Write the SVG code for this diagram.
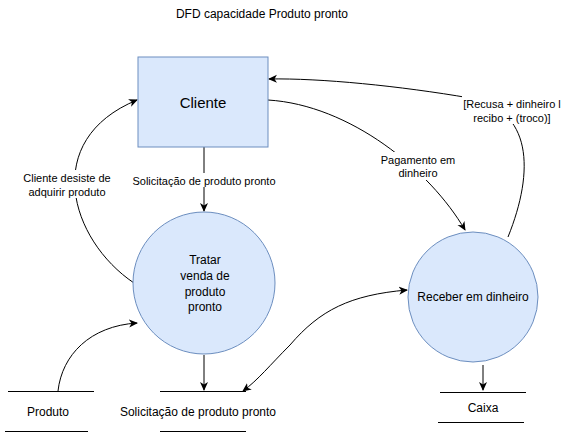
<svg xmlns="http://www.w3.org/2000/svg" width="562" height="436" viewBox="0 0 562 436">
<defs>
<marker id="arr" markerWidth="10" markerHeight="10" refX="8" refY="5" orient="auto" markerUnits="userSpaceOnUse">
<path d="M0,1 L9,5 L0,9 L2.5,5 Z" fill="#000"/>
</marker>
<style>
.node{fill:#dae8fc;stroke:#6c8ebf;stroke-width:1}
.t{font-family:"Liberation Sans",Arial,sans-serif;fill:#000;text-anchor:middle}
.lbl{font-size:11px}
.n{font-size:12px}
.e{fill:none;stroke:#000;stroke-width:1}
.s{stroke:#000;stroke-width:1}
.bg{fill:#fff}
</style>
</defs>
<rect width="562" height="436" fill="#fff"/>
<text class="t n" x="262" y="18">DFD capacidade Produto pronto</text>
<g id="connectors">
<path class="e" d="M204 147 L204 211" marker-end="url(#arr)"/>
<path class="e" d="M204 355 L204 390" marker-end="url(#arr)"/>
<path class="e" d="M483 365 L483 390" marker-end="url(#arr)"/>
<path class="e" d="M58 391 C62 355 90 326 137 323" marker-end="url(#arr)"/>
<path class="e" d="M134 283 C70 240 40 140 137 100" marker-end="url(#arr)"/>
<path class="e" d="M268 100 C350 105 430 170 465 230" marker-end="url(#arr)"/>
<path class="e" d="M508 237 C535 170 532 110 470 98 C400 86 320 78 269 79" marker-end="url(#arr)"/>
<path class="e" d="M290 345 C320 310 350 295 407 290" marker-end="url(#arr)"/>
<path class="e" d="M290 345 C270 365 258 380 243 391" marker-end="url(#arr)"/>
<rect class="bg" x="131" y="173" width="146" height="14"/>
<text class="t lbl" x="204" y="185">Solicitação de produto pronto</text>
<rect class="bg" x="22" y="170" width="92" height="28"/>
<text class="t lbl" x="67" y="182">Cliente desiste de</text>
<text class="t lbl" x="67" y="196">adquirir produto</text>
<rect class="bg" x="380" y="152" width="76" height="28"/>
<text class="t lbl" x="418" y="164">Pagamento em</text>
<text class="t lbl" x="418" y="177">dinheiro</text>
<rect class="bg" x="462" y="96" width="100" height="28"/>
<text class="t lbl" x="512" y="108">[Recusa + dinheiro l</text>
<text class="t lbl" x="512" y="122">recibo + (troco)]</text>
</g>
<g id="cliente">
<rect class="node" x="138" y="57" width="130" height="90"/>
<text class="t" x="203" y="108" font-size="15">Cliente</text>
</g>
<g id="tratar">
<circle class="node" cx="204" cy="283" r="71"/>
<text class="t n" x="205" y="264">Tratar</text>
<text class="t n" x="205" y="280">venda de</text>
<text class="t n" x="205" y="296">produto</text>
<text class="t n" x="205" y="311">pronto</text>
</g>
<g id="receber">
<circle class="node" cx="473" cy="297" r="65"/>
<text class="t n" x="473" y="301">Receber em dinheiro</text>
</g>
<g id="store-produto">
<line class="s" x1="8" y1="391.5" x2="94" y2="391.5"/>
<line class="s" x1="5" y1="431.5" x2="88" y2="431.5"/>
<text class="t n" x="48" y="416">Produto</text>
</g>
<g id="store-solicitacao">
<line class="s" x1="160" y1="391.5" x2="246" y2="391.5"/>
<line class="s" x1="160" y1="431.5" x2="246" y2="431.5"/>
<text class="t n" x="198" y="416">Solicitação de produto pronto</text>
</g>
<g id="store-caixa">
<line class="s" x1="440" y1="392.5" x2="526" y2="392.5"/>
<line class="s" x1="438" y1="422.5" x2="524" y2="422.5"/>
<text class="t n" x="483" y="412">Caixa</text>
</g>
</svg>
